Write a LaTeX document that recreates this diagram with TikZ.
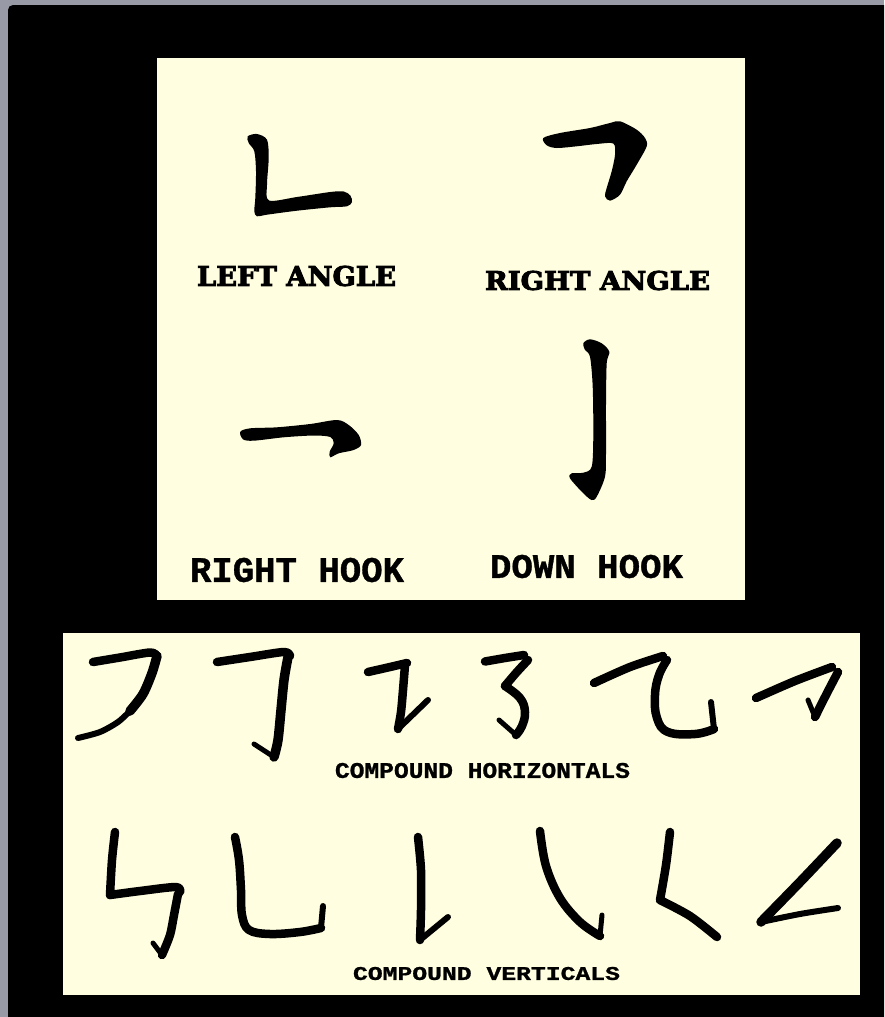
\documentclass[tikz,border=0pt]{standalone}
\usepackage{fontspec}
\usepackage{graphicx}
\newfontfamily\slabfont{DejaVu Serif}[BoldFeatures={FakeBold=3.5}]
\newfontfamily\typefont{Liberation Mono}[BoldFeatures={FakeBold=1}]
\definecolor{cream}{RGB}{255,254,224}
\definecolor{framegray}{RGB}{152,154,166}
\tikzset{
  brush/.style={line width=8.5pt, line cap=round, line join=round, black},
  ink/.style={fill=black},
  lbl/.style={inner sep=0pt, text=black}
}
\begin{document}
\begin{tikzpicture}[x=1pt,y=-1pt]
\useasboundingbox (0,0) rectangle (884,1017);
\fill[framegray] (0,0) rectangle (884,1017);
\fill[black] (884,1017) -- (8,1017) [rounded corners=5pt] -- (8,5) [sharp corners] -- (884,5) -- cycle;
% panels
\fill[cream] (157,58) rectangle (745,600);
\fill[cream] (63,633) rectangle (860,995);

% ---------- top panel strokes ----------
% left angle
\fill[ink] plot[smooth cycle, tension=0.5] coordinates {(247.7,136.3) (257,134) (267,139.7) (268.7,158) (267,184.7) (269,200.5) (297,197) (330.3,192) (343.7,191.5) (350.3,195.5) (352,202) (347,206.3) (330.3,207.3) (297,210.7) (267,214.7) (257,216.3) (254.3,211.3) (255.3,198) (256,171.3) (254.3,151.3) (248.7,143)};
% right angle
\fill[ink] plot[smooth cycle, tension=0.5] coordinates {(543.3,138) (560,133) (590,128) (610,123) (620,121.3) (636.7,129.7) (645,138) (646.7,146.3) (636.7,164.7) (626.7,181.3) (620,194.7) (610,200.7) (605,196.3) (606.7,188) (611.7,171.3) (615,154.7) (613.3,143.5) (596.7,144) (576.7,146.3) (556.7,148) (546.7,145.3)};
% right hook
\fill[ink] plot[smooth cycle, tension=0.5] coordinates {(240.3,431.7) (250.3,428.3) (277,427.3) (310.3,424) (337,420) (348.7,425) (358.7,435) (361,445) (353.7,450) (338.7,453.3) (330.3,457.3) (329.7,451.7) (333.7,443.3) (330.3,437) (313.7,435.5) (283.7,437.3) (253.7,440.7) (243,439.3)};
% down hook
\fill[ink] plot[smooth cycle, tension=0.5] coordinates {(583.3,343.3) (590,339.3) (601.7,343.3) (609.3,351.7) (606.7,363.3) (606,403.3) (606,453.3) (605,476.7) (596.7,496.7) (591.7,500) (583.3,493.3) (570,478.3) (571.7,473.3) (583.3,472.7) (591.7,466.7) (593.3,436.7) (592.7,386.7) (590,356.7) (585,350)};

% ---------- top panel labels ----------
\node[lbl] (leftangle) at (296.5,276) {\resizebox{199pt}{20pt}{\slabfont\bfseries LEFT ANGLE}};
\node[lbl] (rightangle) at (597.5,280.5) {\resizebox{225pt}{19pt}{\slabfont\bfseries RIGHT ANGLE}};
\node[lbl] (righthook) at (297,570) {\resizebox{214pt}{24pt}{\typefont\bfseries RIGHT HOOK}};
\node[lbl] (downhook) at (586.5,566.5) {\resizebox{193pt}{23pt}{\typefont\bfseries DOWN HOOK}};

% ---------- compound horizontals ----------
% A
\draw[brush] plot[smooth] coordinates {(93,662) (120,657.5) (150,652.5) (157,656)};
\draw[brush,line width=9.5pt] plot[smooth] coordinates {(157,656) (152,673) (143,694) (130,711)};
\draw[brush,line width=6pt] plot[smooth] coordinates {(130,711) (118,722) (100,732) (78,738)};
% B
\draw[brush] plot[smooth] coordinates {(217,662) (250,657) (284,652) (290,656)};
\draw[brush,line width=9.5pt] plot[smooth] coordinates {(288,657) (284,680) (281,710) (278,740) (274,757)};
\draw[brush,line width=5pt] (274,757) -- (254,744);
% C
\draw[brush] plot[smooth] coordinates {(368,672) (390,667) (407,663)};
\draw[brush] plot[smooth] coordinates {(405,665) (403,690) (401,712) (398,729)};
\draw[brush,line width=6pt] (398,729) -- (428,700);
% D
\draw[brush] plot[smooth] coordinates {(485,661.5) (505,658) (524,655)};
\draw[brush] plot[smooth] coordinates {(528,660) (516,673) (505,686)};
\draw[brush] plot[smooth,tension=.7] coordinates {(505,686) (520,698) (525,712) (522,726) (516,735)};
\draw[brush,line width=5pt] (516,735) -- (499,720);
% E
\draw[brush] plot[smooth] coordinates {(594,683) (630,667) (663,656)};
\draw[brush] plot[smooth,tension=.7] coordinates {(667,660) (659,675) (655,695) (657,718) (668,732) (695,734) (714,729)};
\draw[brush,line width=6pt] (714,729) -- (711,702);
% F
\draw[brush] plot[smooth] coordinates {(756,698) (795,681) (832,667)};
\draw[brush] plot[smooth] coordinates {(838,672) (826,695) (815,717)};
\draw[brush,line width=5pt] (815,717) -- (808,700);

\node[lbl] (comphor) at (482.5,770.5) {\resizebox{295pt}{15pt}{\typefont\bfseries COMPOUND HORIZONTALS}};

% ---------- compound verticals ----------
% G
\draw[brush] plot[smooth] coordinates {(115,832) (112,860) (110,895)};
\draw[brush] plot[smooth] coordinates {(110,895) (140,891) (176,887) (180,892)};
\draw[brush] plot[smooth] coordinates {(178,894) (174,915) (170,935) (162,955)};
\draw[brush,line width=5pt] (162,955) -- (153,943);
% H
\draw[brush] plot[smooth,tension=.6] coordinates {(235,837) (239,860) (241,890) (242,915) (249,930) (270,934) (300,932) (321,928)};
\draw[brush,line width=6pt] (321,928) -- (323,906);
% I
\draw[brush] plot[smooth] coordinates {(418,837) (421,870) (421,910) (420,940)};
\draw[brush,line width=6pt] (420,940) -- (448,917);
% J
\draw[brush] plot[smooth,tension=.6] coordinates {(540,831) (546,866) (560,898) (580,922) (600,936)};
\draw[brush,line width=5pt] (600,936) -- (602,915);
% K
\draw[brush] plot[smooth] coordinates {(670,832) (666,865) (660,900)};
\draw[brush] plot[smooth] coordinates {(660,900) (690,916) (717,937)};
% L
\draw[brush,line width=9.5pt] plot[smooth] coordinates {(837,843) (800,882) (761,922)};
\draw[brush,line width=6pt] plot[smooth] coordinates {(761,922) (800,914) (838,908)};

\node[lbl] (compvert) at (486.5,973.5) {\resizebox{267pt}{13pt}{\typefont\bfseries COMPOUND VERTICALS}};
\end{tikzpicture}
\end{document}
